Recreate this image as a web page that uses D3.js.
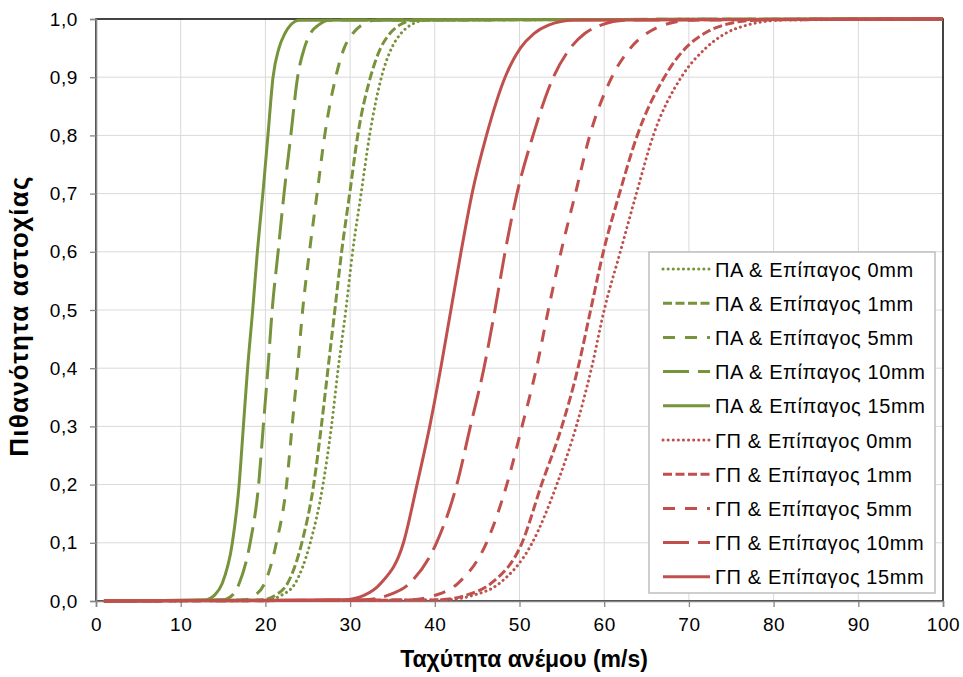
<!DOCTYPE html>
<html>
<head>
<meta charset="utf-8">
<script src="https://cdn.jsdelivr.net/npm/d3@7"></script>
<style>
  body { margin: 0; background: #fff; }
  svg { display: block; font-family: "Liberation Sans", Arial, sans-serif; }
</style>
</head>
<body>
<svg id="chart" width="963" height="677"></svg>
<script>
const probLevels = [0.002, 0.01, 0.03, 0.1, 0.2, 0.3, 0.4, 0.5, 0.6, 0.7, 0.8, 0.9, 0.95, 0.975, 0.99, 0.998];

// Wind speed (m/s) where each curve reaches the matching probability level
const pa0mm  = [20.3, 21.9, 23.5, 25.3, 26.8, 27.8, 28.6, 29.5, 30.3, 31.3, 32.3, 33.7, 34.9, 36.0, 37.2, 39.0];
const pa1mm  = [19.6, 21.2, 22.6, 24.3, 25.7, 26.6, 27.4, 28.2, 29.0, 29.95, 30.9, 32.4, 33.6, 34.7, 35.9, 37.7];
const pa5mm  = [17.5, 18.8, 19.9, 21.3, 22.5, 23.15, 23.8, 24.4, 25.2, 26.1, 27.0, 28.3, 29.3, 30.3, 31.4, 33.0];
const pa10mm = [15.0, 16.1, 16.9, 18.2, 19.2, 19.75, 20.3, 20.8, 21.5, 22.2, 23.0, 23.8, 24.6, 25.3, 26.3, 27.5];
const pa15mm = [12.9, 14.0, 14.9, 16.1, 16.9, 17.4, 17.9, 18.5, 19.05, 19.7, 20.3, 20.9, 21.6, 22.3, 23.0, 24.0];
const gp0mm  = [41.0, 44.6, 47.6, 51.5, 54.4, 56.7, 58.5, 60.0, 61.9, 63.8, 65.8, 69.1, 72.0, 74.3, 77.0, 81.0];
const gp1mm  = [40.3, 43.7, 46.6, 50.3, 52.6, 55.0, 56.9, 58.4, 59.9, 61.8, 63.9, 67.1, 69.6, 71.8, 74.2, 78.0];
const gp5mm  = [37.0, 40.1, 42.7, 46.1, 48.5, 50.3, 52.0, 53.4, 54.9, 56.6, 58.3, 60.9, 63.1, 65.0, 67.1, 70.4];
const gp10mm = [31.5, 34.5, 37.0, 40.2, 42.6, 44.2, 45.8, 47.1, 48.3, 49.7, 51.6, 54.0, 56.0, 57.7, 59.7, 62.6];
const gp15mm = [29.3, 31.7, 33.6, 36.3, 37.9, 39.4, 40.7, 41.9, 43.1, 44.4, 46.1, 48.3, 50.1, 51.7, 53.5, 56.3];

const seriesNames = [
  'ΠΑ & Επίπαγος 0mm', 'ΠΑ & Επίπαγος 1mm', 'ΠΑ & Επίπαγος 5mm',
  'ΠΑ & Επίπαγος 10mm', 'ΠΑ & Επίπαγος 15mm',
  'ΓΠ & Επίπαγος 0mm', 'ΓΠ & Επίπαγος 1mm', 'ΓΠ & Επίπαγος 5mm',
  'ΓΠ & Επίπαγος 10mm', 'ΓΠ & Επίπαγος 15mm'
];
const seriesValues = [pa0mm, pa1mm, pa5mm, pa10mm, pa15mm, gp0mm, gp1mm, gp5mm, gp10mm, gp15mm];
const speedRange = [1, 100]; // wind speeds covered by every curve

const xTicks = d3.range(0, 101, 10);
const yTicks = d3.range(0, 11).map(i => i / 10);

// Styles
const green = '#77933c';
const red = '#c0504d';
const dashes = ['0.1 5', '9 3.5', '12 10', '26 9', null];

const svg = d3.select('#chart');

const x = d3.scaleLinear().domain([0, 100]).range([96, 943]);
const y = d3.scaleLinear().domain([0, 1]).range([601, 19]);

// Gridlines
const grid = svg.append('g');
grid.selectAll('.vg').data(xTicks.slice(1)).enter().append('line')
  .attr('x1', d => x(d)).attr('x2', d => x(d))
  .attr('y1', y(0)).attr('y2', y(1))
  .attr('stroke', '#d9d9d9').attr('stroke-width', 1);
grid.selectAll('.hg').data(yTicks.slice(1)).enter().append('line')
  .attr('x1', x(0)).attr('x2', x(100))
  .attr('y1', d => y(d)).attr('y2', d => y(d))
  .attr('stroke', '#d9d9d9').attr('stroke-width', 1);

// Plot area border
svg.append('rect')
  .attr('x', x(0)).attr('y', y(1))
  .attr('width', x(100) - x(0)).attr('height', y(0) - y(1))
  .attr('fill', 'none').attr('stroke', '#1a1a1a').attr('stroke-width', 1.6);

// Axes
const fmt = d => d3.format('.1f')(d).replace('.', ',');
const xAxis = svg.append('g')
  .attr('transform', `translate(0,${y(0)})`)
  .call(d3.axisBottom(x).tickValues(xTicks).tickSize(6).tickPadding(11));
const yAxis = svg.append('g')
  .attr('transform', `translate(${x(0)},0)`)
  .call(d3.axisLeft(y).tickValues(yTicks).tickFormat(fmt).tickSize(6).tickPadding(12));

[xAxis, yAxis].forEach(a => {
  a.select('.domain').attr('stroke', '#868686').attr('stroke-width', 1.6);
  a.selectAll('.tick line').attr('stroke', '#868686').attr('stroke-width', 1.3);
  a.selectAll('.tick text')
    .attr('fill', '#000')
    .style('font-size', '19px')
    .style('letter-spacing', '0.6px')
    .style('font-family', '"Liberation Sans", Arial, sans-serif');
});

// Axis titles
svg.append('text')
  .attr('x', 524).attr('y', 667)
  .attr('text-anchor', 'middle')
  .style('font-size', '23px').style('font-weight', 'bold')
  .text('Ταχύτητα ανέμου (m/s)');

svg.append('text')
  .attr('transform', 'translate(28,316) rotate(-90)')
  .attr('text-anchor', 'middle')
  .style('font-size', '26px').style('font-weight', 'bold')
  .style('letter-spacing', '1.2px')
  .text('Πιθανότητα αστοχίας');

// Curves
const line = d3.line()
  .x(d => x(d[0]))
  .y(d => y(d[1]))
  .curve(d3.curveMonotoneX);

seriesValues.forEach((vals, i) => {
  const pts = [[speedRange[0], 0]]
    .concat(vals.map((v, j) => [v, probLevels[j]]))
    .concat([[speedRange[1], 1]]);
  const path = svg.append('path')
    .datum(pts)
    .attr('d', line)
    .attr('fill', 'none')
    .attr('stroke', i < 5 ? green : red)
    .attr('stroke-width', 3)
    .attr('stroke-linecap', i % 5 === 0 ? 'round' : 'butt');
  if (dashes[i % 5]) path.attr('stroke-dasharray', dashes[i % 5]);
});

// Legend
const legend = svg.append('g');
legend.append('rect')
  .attr('x', 649).attr('y', 252).attr('width', 286).attr('height', 341)
  .attr('fill', '#fff').attr('stroke', '#bfbfbf').attr('stroke-width', 1.5);

seriesNames.forEach((name, i) => {
  const ly = 269 + i * 34.2;
  const l = legend.append('line')
    .attr('x1', 663).attr('x2', 710)
    .attr('y1', ly).attr('y2', ly)
    .attr('stroke', i < 5 ? green : red)
    .attr('stroke-width', 3)
    .attr('stroke-linecap', i % 5 === 0 ? 'round' : 'butt');
  if (dashes[i % 5]) l.attr('stroke-dasharray', dashes[i % 5]);
  legend.append('text')
    .attr('x', 715).attr('y', ly + 7.5)
    .style('font-size', '20px')
    .style('letter-spacing', '0.6px')
    .text(name);
});
</script>
</body>
</html>
